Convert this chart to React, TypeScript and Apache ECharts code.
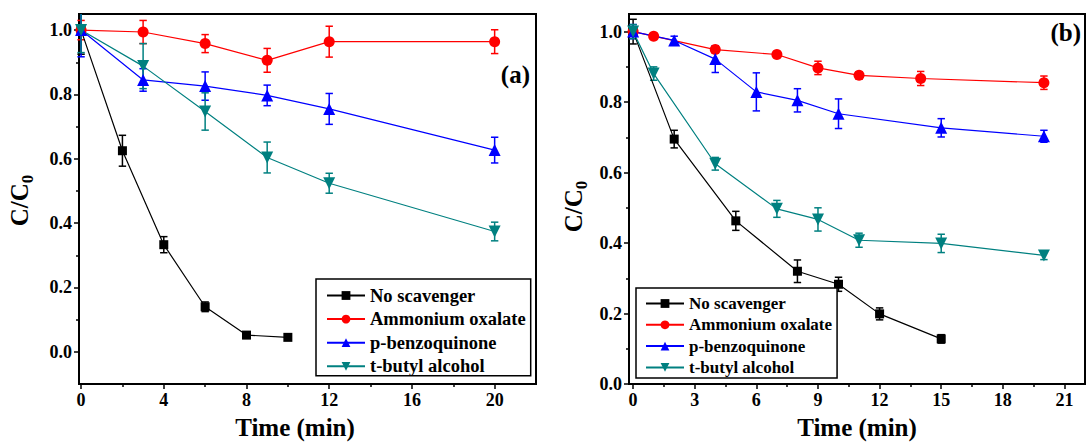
import React, { useEffect, useRef } from 'react';
import * as echarts from 'echarts';

const FONT = 'Liberation Serif';

const seriesNames = ['No scavenger', 'Ammonium oxalate', 'p-benzoquinone', 't-butyl alcohol'];
const seriesColors = ['#000000', '#ff0000', '#0000ff', '#008080'];
const seriesSymbols = ['rect', 'circle', 'triangle', 'triangle'];
const seriesRotate = [0, 0, 0, 180];
const seriesSymbolSize = [9, 11, 12, 12];

// ---- Panel (a) ----
const aNoX = [0, 2, 4, 6, 8, 10];
const aNoY = [1.0, 0.625, 0.333, 0.14, 0.052, 0.045];
const aNoE = [0.075, 0.048, 0.025, 0.015, 0.01, 0.008];
const aAoX = [0, 3, 6, 9, 12, 20];
const aAoY = [1.0, 0.994, 0.958, 0.906, 0.964, 0.964];
const aAoE = [0.03, 0.036, 0.028, 0.037, 0.048, 0.037];
const aBqX = [0, 3, 6, 9, 12, 20];
const aBqY = [1.0, 0.845, 0.826, 0.797, 0.755, 0.627];
const aBqE = [0.083, 0.035, 0.044, 0.032, 0.048, 0.04];
const aTbX = [0, 3, 6, 9, 12, 20];
const aTbY = [1.0, 0.888, 0.747, 0.604, 0.524, 0.374];
const aTbE = [0.07, 0.07, 0.058, 0.048, 0.031, 0.029];

const aXTicks = [0, 4, 8, 12, 16, 20];
const aXMinor = [2, 6, 10, 14, 18];
const aYTicks = [0, 0.2, 0.4, 0.6, 0.8, 1.0];
const aYMinor = [0.1, 0.3, 0.5, 0.7, 0.9];

// ---- Panel (b) ----
const bNoX = [0, 2, 5, 8, 10, 12, 15];
const bNoY = [1.0, 0.695, 0.463, 0.32, 0.283, 0.199, 0.128];
const bNoE = [0.035, 0.025, 0.027, 0.032, 0.02, 0.017, 0.012];
const bAoX = [0, 1, 4, 7, 9, 11, 14, 20];
const bAoY = [1.0, 0.987, 0.949, 0.935, 0.897, 0.876, 0.867, 0.855];
const bAoE = [0.01, 0.008, 0.01, 0.008, 0.019, 0.01, 0.02, 0.019];
const bBqX = [0, 2, 4, 6, 8, 10, 15, 20];
const bBqY = [1.0, 0.975, 0.922, 0.829, 0.805, 0.767, 0.727, 0.703];
const bBqE = [0.02, 0.012, 0.038, 0.054, 0.033, 0.042, 0.026, 0.017];
const bTbX = [0, 1, 4, 7, 9, 11, 15, 20];
const bTbY = [1.0, 0.881, 0.625, 0.497, 0.467, 0.408, 0.399, 0.365];
const bTbE = [0.02, 0.019, 0.018, 0.024, 0.033, 0.02, 0.026, 0.012];

const bXTicks = [0, 3, 6, 9, 12, 15, 18, 21];
const bXMinor = [1.5, 4.5, 7.5, 10.5, 13.5, 16.5, 19.5];
const bYTicks = [0, 0.2, 0.4, 0.6, 0.8, 1.0];
const bYMinor = [0.1, 0.3, 0.5, 0.7, 0.9];

const xTitle = 'Time (min)';
const yTitle = '{a|C/C}{b|0}';

type Panel = {
  grid: { left: number; top: number; width: number; height: number };
  xMin: number; xMax: number; yMin: number; yMax: number;
  xTicks: number[]; xMinor: number[]; yTicks: number[]; yMinor: number[];
  xs: number[][]; ys: number[][]; es: number[][];
  xNamePad: number[];
  yNameGap: number;
  yNamePad: number[];
};

const panels: Panel[] = [
  {
    grid: { left: 79, top: 14, width: 457, height: 370 },
    xMin: -0.1, xMax: 22, yMin: -0.1, yMax: 1.05,
    xTicks: aXTicks, xMinor: aXMinor, yTicks: aYTicks, yMinor: aYMinor,
    xs: [aNoX, aAoX, aBqX, aTbX], ys: [aNoY, aAoY, aBqY, aTbY], es: [aNoE, aAoE, aBqE, aTbE],
    xNamePad: [0, 25, 0, 0],
    yNameGap: 43,
    yNamePad: [0, 3, 0, 0],
  },
  {
    grid: { left: 629, top: 14, width: 456, height: 370 },
    xMin: -0.2, xMax: 22, yMin: 0, yMax: 1.05,
    xTicks: bXTicks, xMinor: bXMinor, yTicks: bYTicks, yMinor: bYMinor,
    xs: [bNoX, bAoX, bBqX, bTbX], ys: [bNoY, bAoY, bBqY, bTbY], es: [bNoE, bAoE, bBqE, bTbE],
    xNamePad: [0, 0, 0, 0],
    yNameGap: 39,
    yNamePad: [0, 15, 0, 0],
  },
];

const labelStyle = { fontFamily: FONT, fontWeight: 'bold' as const, fontSize: 18, color: '#000' };

function buildOption() {
  const grids: any[] = [];
  const xAxes: any[] = [];
  const yAxes: any[] = [];
  const series: any[] = [];

  panels.forEach((p, pi) => {
    grids.push({
      ...p.grid, show: true, borderColor: '#000', borderWidth: 2, backgroundColor: 'transparent',
      containLabel: false, outerBoundsMode: 'none',
    });
    const mainX = xAxes.length;
    xAxes.push({
      type: 'value', gridIndex: pi, position: 'bottom', min: p.xMin, max: p.xMax,
      axisLine: { show: true, onZero: false, lineStyle: { color: '#000', width: 2 } },
      axisTick: { show: true, inside: false, length: 5, lineStyle: { color: '#000', width: 1.5 }, customValues: p.xTicks },
      axisLabel: { ...labelStyle, margin: 7, customValues: p.xTicks, formatter: (v: number) => String(Math.round(v)) },
      splitLine: { show: false },
      name: xTitle, nameLocation: 'middle', nameGap: 31,
      nameTextStyle: { fontFamily: FONT, fontWeight: 'bold', fontSize: 25, color: '#000', padding: p.xNamePad },
    });
    xAxes.push({
      type: 'value', gridIndex: pi, position: 'bottom', min: p.xMin, max: p.xMax,
      axisLine: { show: false, onZero: false },
      axisTick: { show: true, inside: false, length: 3, lineStyle: { color: '#000', width: 1.5 }, customValues: p.xMinor },
      axisLabel: { show: false },
      splitLine: { show: false },
    });
    const mainY = yAxes.length;
    yAxes.push({
      type: 'value', gridIndex: pi, position: 'left', min: p.yMin, max: p.yMax,
      axisLine: { show: true, onZero: false, lineStyle: { color: '#000', width: 2 } },
      axisTick: { show: true, inside: false, length: 5, lineStyle: { color: '#000', width: 1.5 }, customValues: p.yTicks },
      axisLabel: { ...labelStyle, margin: 7, customValues: p.yTicks, formatter: (v: number) => v.toFixed(1) },
      splitLine: { show: false },
      name: yTitle, nameLocation: 'middle', nameGap: p.yNameGap, nameRotate: 90,
      nameTextStyle: {
        fontFamily: FONT, fontWeight: 'bold', padding: p.yNamePad,
        rich: {
          a: { fontFamily: FONT, fontWeight: 'bold', fontSize: 25, color: '#000', lineHeight: 34 },
          b: { fontFamily: FONT, fontWeight: 'bold', fontSize: 17, color: '#000', lineHeight: 17, verticalAlign: 'bottom' },
        },
      },
    });
    yAxes.push({
      type: 'value', gridIndex: pi, position: 'left', min: p.yMin, max: p.yMax,
      axisLine: { show: false, onZero: false },
      axisTick: { show: true, inside: false, length: 3, lineStyle: { color: '#000', width: 1.5 }, customValues: p.yMinor },
      axisLabel: { show: false },
      splitLine: { show: false },
    });

    seriesNames.forEach((name, si) => {
      const xs = p.xs[si];
      const ys = p.ys[si];
      const es = p.es[si];
      const color = seriesColors[si];
      const yMax = p.yMax;
      const yMin = p.yMin;
      series.push({
        type: 'custom',
        name: `err-${pi}-${si}`,
        xAxisIndex: mainX, yAxisIndex: mainY,
        z: 2,
        silent: true,
        encode: { x: 0, y: 1 },
        data: xs.map((x, i) => [x, ys[i], es[i]]),
        renderItem: (params: any, api: any) => {
          const x = api.value(0);
          const y = api.value(1);
          const e = api.value(2);
          const hi = Math.min(y + e, yMax);
          const lo = Math.max(y - e, yMin);
          const pt = api.coord([x, hi]);
          const pb = api.coord([x, lo]);
          const cw = 3.7;
          const st = { stroke: color, lineWidth: 1.5, fill: null };
          const children: any[] = [
            { type: 'line', shape: { x1: pt[0], y1: pt[1], x2: pb[0], y2: pb[1] }, style: st },
          ];
          if (y + e <= yMax) children.push({ type: 'line', shape: { x1: pt[0] - cw, y1: pt[1], x2: pt[0] + cw, y2: pt[1] }, style: st });
          if (y - e >= yMin) children.push({ type: 'line', shape: { x1: pb[0] - cw, y1: pb[1], x2: pb[0] + cw, y2: pb[1] }, style: st });
          return { type: 'group', children };
        },
      });
      series.push({
        type: 'line',
        name,
        xAxisIndex: mainX, yAxisIndex: mainY,
        z: 3,
        data: xs.map((x, i) => [x, ys[i]]),
        symbol: seriesSymbols[si],
        symbolRotate: seriesRotate[si],
        symbolSize: seriesSymbolSize[si],
        showSymbol: true,
        lineStyle: { color, width: 1.2 },
        itemStyle: { color, borderWidth: 0 },
        emphasis: { disabled: true },
      });
    });
  });

  const legendBase = {
    orient: 'vertical',
    data: seriesNames,
    itemWidth: 38,
    itemHeight: 11,
    borderColor: '#000',
    borderWidth: 1.5,
    selectedMode: false,
    backgroundColor: '#fff',
  };

  return {
    animation: false,
    backgroundColor: '#fff',
    textStyle: { fontFamily: FONT, fontWeight: 'bold', color: '#000' },
    grid: grids,
    xAxis: xAxes,
    yAxis: yAxes,
    legend: [
      {
        ...legendBase,
        left: 316, top: 279,
        itemGap: 4.6,
        padding: [7, 5, 0, 10],
        textStyle: { fontFamily: FONT, fontWeight: 'bold', fontSize: 18.5, color: '#000', lineHeight: 18 },
      },
      {
        ...legendBase,
        left: 636, top: 288,
        itemGap: 4.3,
        padding: [7, 5, 2, 9],
        textStyle: { fontFamily: FONT, fontWeight: 'bold', fontSize: 17, color: '#000', lineHeight: 17 },
      },
    ],
    graphic: [
      {
        type: 'text', right: 1086 - 530, top: 62, z: 10,
        style: { text: '(a)', fontFamily: FONT, fontWeight: 'bold', fontSize: 25, fill: '#000' },
      },
      {
        type: 'text', right: 1086 - 1081, top: 20, z: 10,
        style: { text: '(b)', fontFamily: FONT, fontWeight: 'bold', fontSize: 25, fill: '#000' },
      },
    ],
    series,
  };
}

export default function App() {
  const ref = useRef<HTMLDivElement>(null);
  useEffect(() => {
    if (!ref.current) return;
    const chart = echarts.init(ref.current, undefined, { renderer: 'svg' });
    chart.setOption(buildOption() as any);
    return () => chart.dispose();
  }, []);
  return (
    <div
      ref={ref}
      style={{ position: 'fixed', left: 0, top: 0, width: 1086, height: 442, background: '#fff' }}
    />
  );
}
